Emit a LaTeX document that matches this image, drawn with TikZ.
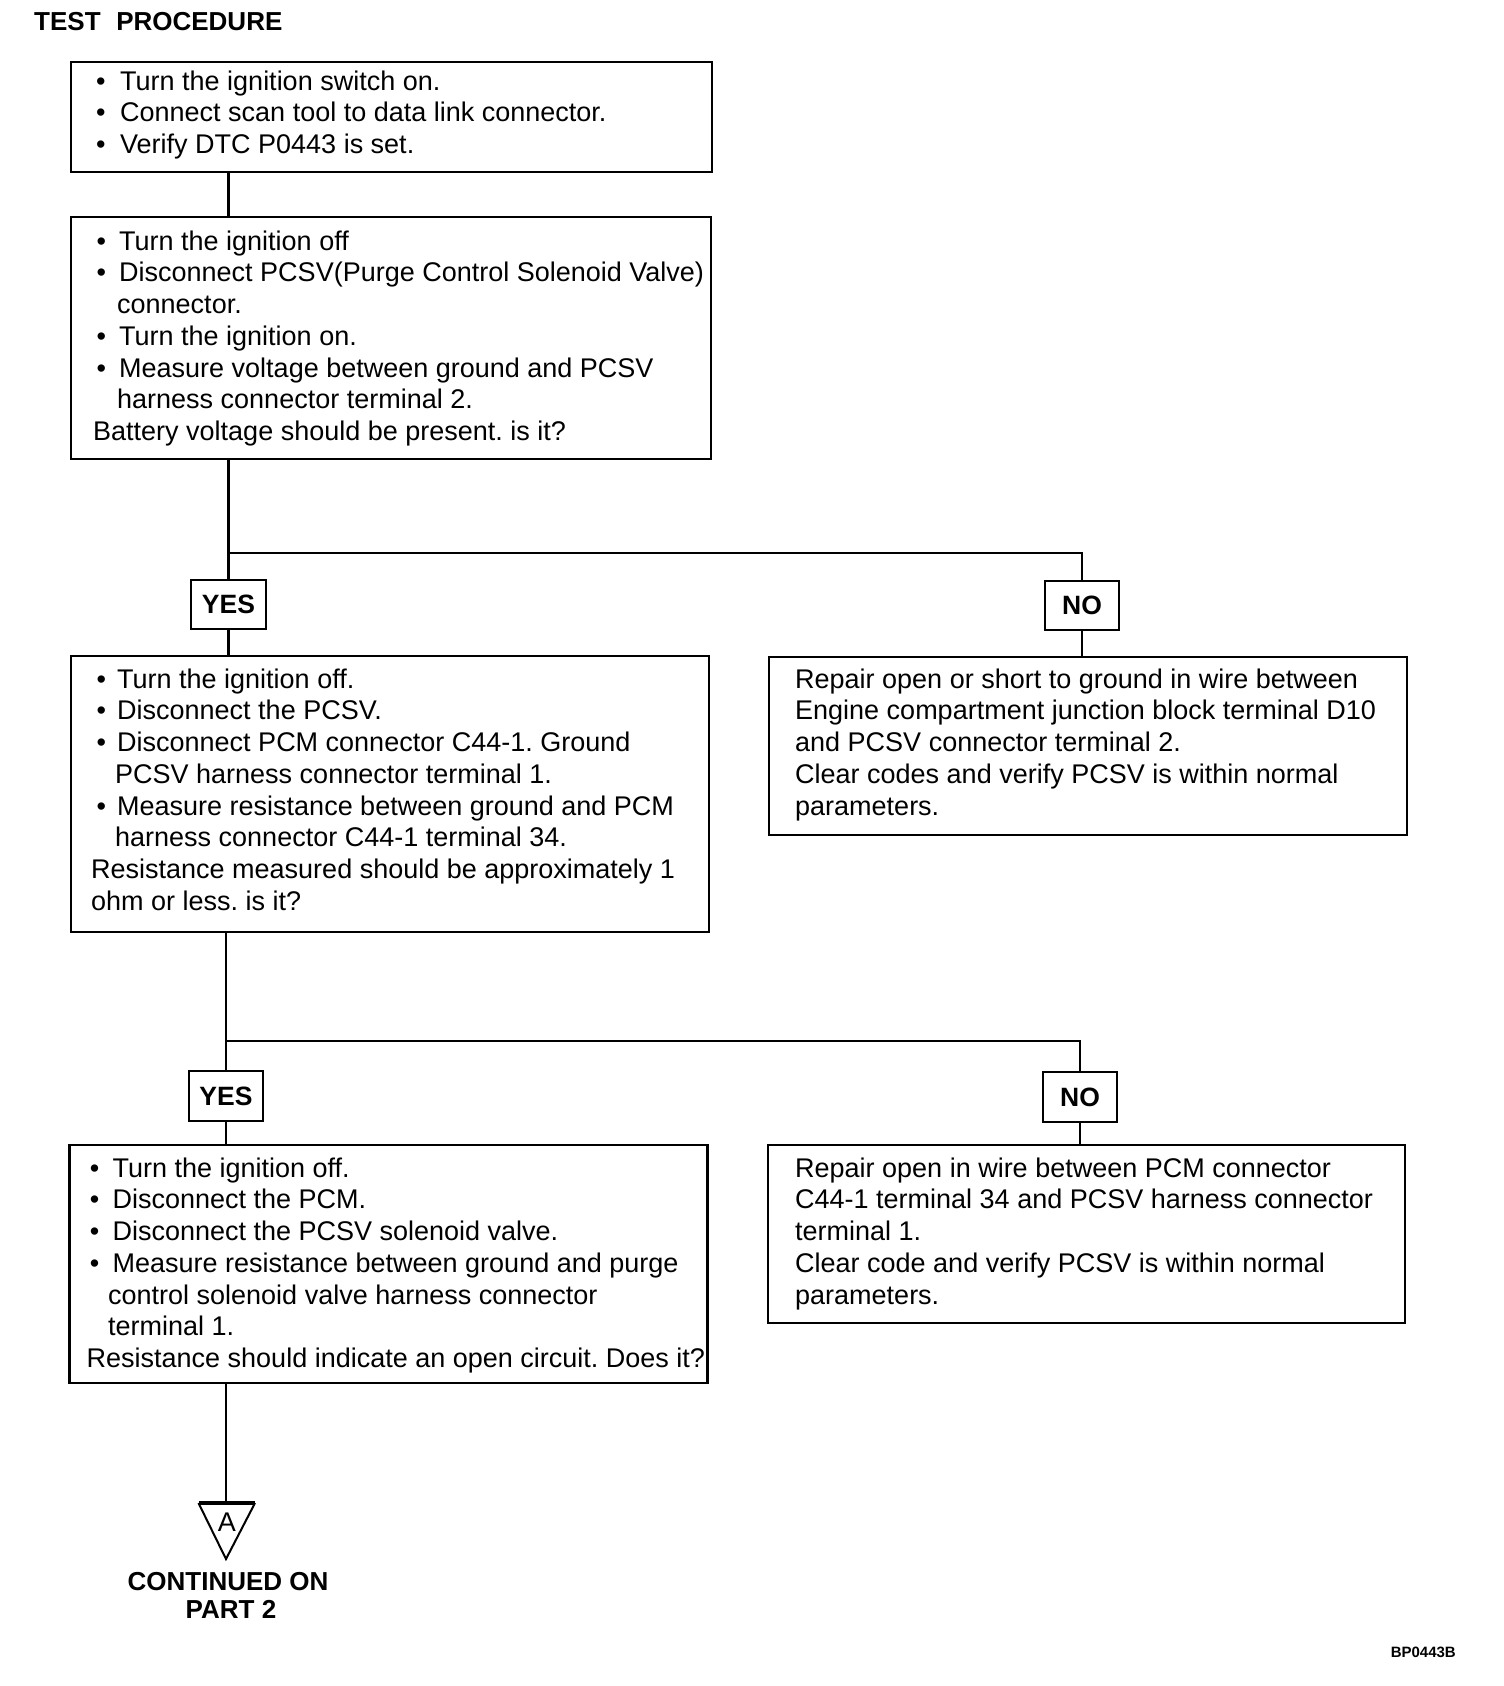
\documentclass[tikz,border=0pt]{standalone}
\usepackage{fontspec}
\setmainfont{Liberation Sans}
\frenchspacing
\newcommand\bu[2]{\hspace*{#1}\makebox[#2][l]{\textbullet}}
\begin{document}
\begin{tikzpicture}[x=1pt,y=-1pt,
  box/.style={draw, line width=2.8pt, inner sep=0pt, outer sep=0pt, anchor=north west},
  lbl/.style={draw, line width=2.8pt, inner sep=0pt, outer sep=0pt, anchor=north west,
              minimum width=74pt, minimum height=49pt,
              font=\fontsize{26.5}{30}\selectfont\bfseries},
  txt/.style={inner sep=0pt, anchor=north west, align=left, font=\fontsize{27}{31.75}\selectfont\frenchspacing},
  conn/.style={line width=2.8pt},
  head/.style={inner sep=0pt, font=\fontsize{26}{30}\selectfont\bfseries}]
\fill[white] (0,0) rectangle (1504,1686);
\useasboundingbox (0,0) rectangle (1504,1686);

\node[head, anchor=base west] (title) at (34,31) {TEST\hspace{0.6em}PROCEDURE};

% boxes
\node[box, minimum width=641pt, minimum height=110pt] (b1) at (71,62) {};
\node[box, minimum width=640pt, minimum height=242pt] (b2) at (71,217) {};
\node[box, minimum width=638pt, minimum height=276pt] (b3) at (71,656) {};
\node[box, minimum width=638pt, minimum height=178pt] (b4) at (769,657) {};
\node[box, minimum width=638pt, minimum height=238pt] (b5) at (69.5,1145) {};
\node[box, minimum width=637pt, minimum height=178pt] (b6) at (768,1145) {};

% texts
\node[txt] (t1) at (96,67.8) {\strut\bu{0pt}{24pt}Turn the ignition switch on.\\
\bu{0pt}{24pt}Connect scan tool to data link connector.\\
\bu{0pt}{24pt}Verify DTC P0443 is set.};

\node[txt] (t2) at (93,227.8) {\strut\bu{3.5pt}{22.5pt}Turn the ignition off\\
\bu{3.5pt}{22.5pt}Disconnect PCSV(Purge Control Solenoid Valve)\\
\hspace*{24pt}connector.\\
\bu{3.5pt}{22.5pt}Turn the ignition on.\\
\bu{3.5pt}{22.5pt}Measure voltage between ground and PCSV\\
\hspace*{24pt}harness connector terminal 2.\\
Battery voltage should be present. is it?};

\node[txt] (t3) at (91,665.8) {\strut\bu{5.5pt}{20.5pt}Turn the ignition off.\\
\bu{5.5pt}{20.5pt}Disconnect the PCSV.\\
\bu{5.5pt}{20.5pt}Disconnect PCM connector C44-1. Ground\\
\hspace*{24pt}PCSV harness connector terminal 1.\\
\bu{5.5pt}{20.5pt}Measure resistance between ground and PCM\\
\hspace*{24pt}harness connector C44-1 terminal 34.\\
Resistance measured should be approximately 1\\
ohm or less. is it?};

\node[txt] (t4) at (795,665.8) {\strut Repair open or short to ground in wire between\\
Engine compartment junction block terminal D10\\
and PCSV connector terminal 2.\\
Clear codes and verify PCSV is within normal\\
parameters.};

\node[txt] (t5) at (86.5,1154.8) {\strut\bu{3.2pt}{22.7pt}Turn the ignition off.\\
\bu{3.2pt}{22.7pt}Disconnect the PCM.\\
\bu{3.2pt}{22.7pt}Disconnect the PCSV solenoid valve.\\
\bu{3.2pt}{22.7pt}Measure resistance between ground and purge\\
\hspace*{21.5pt}control solenoid valve harness connector\\
\hspace*{21.5pt}terminal 1.\\
Resistance should indicate an open circuit. Does it?};

\node[txt] (t6) at (795,1154.8) {\strut Repair open in wire between PCM connector\\
C44-1 terminal 34 and PCSV harness connector\\
terminal 1.\\
Clear code and verify PCSV is within normal\\
parameters.};

% labels
\node[lbl, minimum width=75pt] (y1) at (191,580) {YES};
\node[lbl] (n1) at (1045,581) {NO};
\node[lbl, minimum height=50pt] (y2) at (189,1071) {YES};
\node[lbl, minimum height=50pt] (n2) at (1043,1072) {NO};

% connectors
\coordinate (r1) at (0,553);
\coordinate (r2) at (0,1041);
\draw[conn] (b1.south -| y1.north) -- (b2.north -| y1.north);
\draw[conn] (b2.south -| y1.north) -- (y1.north);
\draw[conn] (y1.north |- r1) -| (n1.north);
\draw[conn] (y1.south) -- (y1.south |- b3.north);
\draw[conn] (n1.south) -- (n1.south |- b4.north);
\draw[conn] (b3.south -| y2.north) -- (y2.north);
\draw[conn] (y2.north |- r2) -| (n2.north);
\draw[conn] (y2.south) -- (y2.south |- b5.north);
\draw[conn] (n2.south) -- (n2.south |- b6.north);

% off-page connector
\coordinate (tl) at (198.5,1503);
\coordinate (tr) at (255,1503);
\coordinate (tb) at (226,1559);
\node[inner sep=0pt, font=\fontsize{27}{30}\selectfont] (a) at (227,1522) {A};
\draw[line width=2pt, line join=miter] (tl) -- (tb) -- (tr);
\draw[line width=4pt] (tl) -- (tr);
\draw[line width=2.2pt] (b5.south -| y2.south) -- (tb |- tl);

\node[head, anchor=base] (c1) at (228,1590) {CONTINUED ON};
\node[head, anchor=base] (c2) at (231,1618) {PART 2};

\node[inner sep=0pt, anchor=base east, font=\fontsize{15}{17}\selectfont\bfseries] (code) at (1456,1657) {BP0443B};
\end{tikzpicture}
\end{document}
